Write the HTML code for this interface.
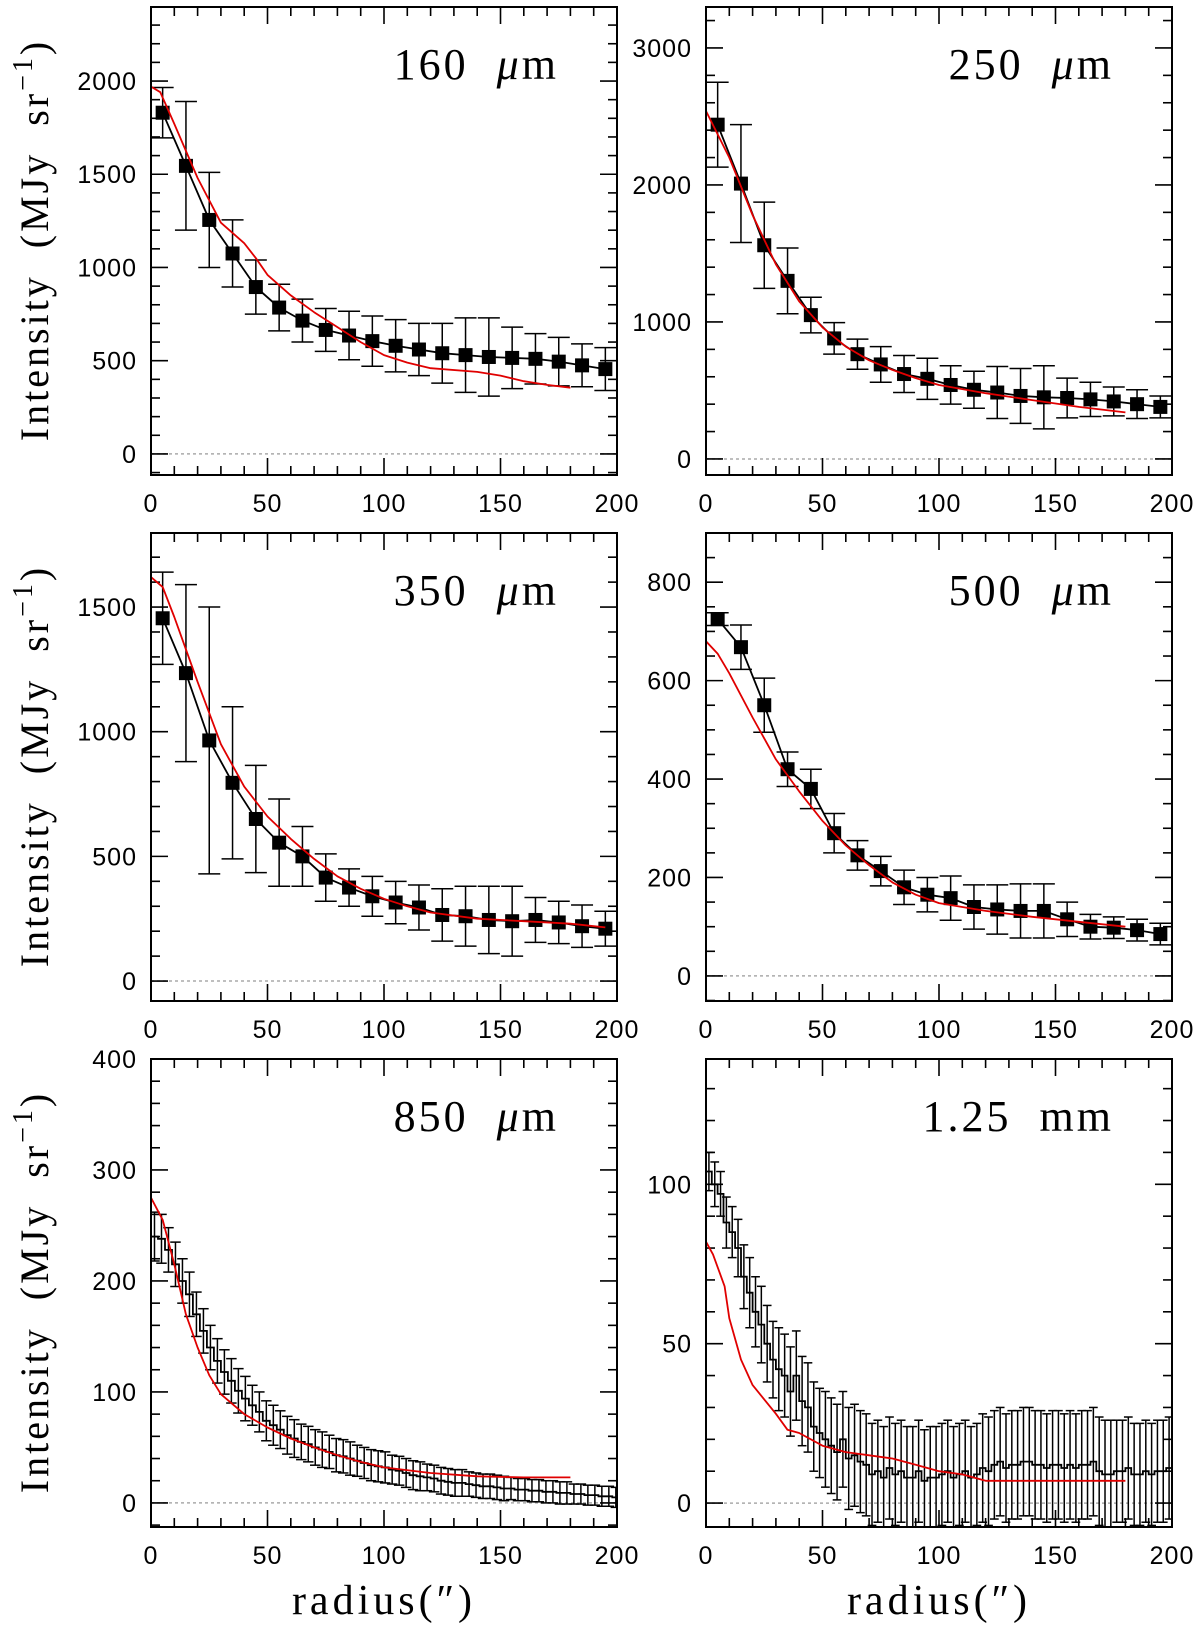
<!DOCTYPE html>
<html><head><meta charset="utf-8"><title>Intensity profiles</title>
<style>html,body{margin:0;padding:0;background:#fff}svg{display:block}</style></head>
<body>
<svg id="fig" width="1200" height="1632" xmlns="http://www.w3.org/2000/svg"></svg>
<script>
// ---- data ----
const r20 = [5,15,25,35,45,55,65,75,85,95,105,115,125,135,145,155,165,175,185,195];
const v160 = [1830,1545,1255,1075,895,785,715,665,635,605,580,560,540,530,520,515,510,495,475,455];
const e160 = [135,345,255,180,145,125,115,115,130,135,140,140,160,200,210,165,135,130,115,115];
const mr160 = [0,4,10,20,30,40,45,50,60,70,80,90,100,110,120,140,150,160,170,180];
const mv160 = [1970,1940,1770,1480,1240,1130,1050,960,850,760,680,600,530,490,460,440,420,390,370,355];

const v250 = [2440,2010,1560,1300,1050,880,765,690,620,585,540,505,485,460,450,445,435,420,400,380];
const e250 = [310,430,315,240,130,115,110,130,135,150,140,135,190,200,230,145,125,105,105,80];
const mr250 = [0,10,20,30,40,50,60,70,80,90,100,120,140,160,180];
const mv250 = [2540,2200,1780,1420,1150,960,820,720,650,590,540,480,430,380,340];

const v350 = [1455,1235,965,795,650,555,500,415,375,340,315,295,265,260,245,240,245,235,220,210];
const e350 = [185,355,535,305,215,175,120,95,75,80,85,90,105,120,135,140,90,85,85,70];
const mr350 = [0,5,10,20,30,40,50,60,70,80,90,100,110,120,140,160,180,195];
const mv350 = [1620,1580,1460,1200,950,780,660,570,490,420,370,330,300,275,250,240,230,215];

const v500 = [725,668,550,420,380,290,245,213,180,165,158,140,135,132,132,115,100,98,93,85];
const e500 = [13,45,55,35,40,40,30,30,35,35,45,45,50,55,55,35,25,22,22,22];
const mr500 = [0,5,10,20,30,40,50,60,70,80,90,100,120,140,160,180];
const mv500 = [680,655,615,525,440,375,315,265,225,190,165,148,132,120,110,100];

const r850 = [1.5,4.5,7.5,10.5,13.5,16.5,19.5,22.5,25.5,28.5,31.5,34.5,37.5,40.5,43.5,46.5,49.5,52.5,55.5,58.5,61.5,64.5,67.5,70.5,73.5,76.5,79.5,82.5,85.5,88.5,91.5,94.5,97.5,100.5,103.5,106.5,109.5,112.5,115.5,118.5,121.5,124.5,127.5,130.5,133.5,136.5,139.5,142.5,145.5,148.5,151.5,154.5,157.5,160.5,163.5,166.5,169.5,172.5,175.5,178.5,181.5,184.5,187.5,190.5,193.5,196.5,199.5];
const v850 = [240,238,228,215,200,188,170,155,140,128,118,110,101,94,88,82,74,70,66,61,58,55,53,50,48,46,43,42,40,38,36,34,33,32,30,29,27,25,24,23,22,20,19,18,18,17,16,15,15,14,13,13,12,12,11,11,10,10,9,9,8,8,7,7,6,6,5];
const e850 = [22,22,20,20,20,20,20,20,20,20,20,20,20,20,18,18,18,18,17,17,17,16,16,16,16,15,15,15,15,14,14,14,14,14,13,13,13,13,13,12,12,12,12,12,12,11,11,11,11,11,11,10,10,10,10,10,10,10,10,10,9,9,9,9,9,9,9];
const mr850 = [0,5,10,15,20,25,30,40,50,60,70,80,90,100,120,140,160,180];
const mv850 = [275,255,215,170,140,115,98,80,68,58,50,43,37,32,27,24,23,23];

const r125 = [1.25,3.75,6.25,8.75,11.25,13.75,16.25,18.75,21.25,23.75,26.25,28.75,31.25,33.75,36.25,38.75,41.25,43.75,46.25,48.75,51.25,53.75,56.25,58.75,61.25,63.75,66.25,68.75,71.25,73.75,76.25,78.75,81.25,83.75,86.25,88.75,91.25,93.75,96.25,98.75,101.25,103.75,106.25,108.75,111.25,113.75,116.25,118.75,121.25,123.75,126.25,128.75,131.25,133.75,136.25,138.75,141.25,143.75,146.25,148.75,151.25,153.75,156.25,158.75,161.25,163.75,166.25,168.75,171.25,173.75,176.25,178.75,181.25,183.75,186.25,188.75,191.25,193.75,196.25,198.75];
const v125 = [104,100,97,88,85,80,71,66,60,56,50,45,42,40,35,40,32,30,24,22,20,18,16,20,14,15,13,12,9,10,8,11,9,10,8,8,10,7,8,8,9,10,8,9,10,8,9,11,10,12,13,11,12,12,13,13,12,12,11,12,12,11,12,11,12,12,13,10,9,9,10,10,11,9,9,10,9,10,10,11];
const e125 = [6,7,7,8,8,9,10,11,11,12,12,12,13,13,14,14,14,14,14,14,15,15,15,15,16,16,16,16,16,16,16,16,16,16,16,16,16,16,16,16,16,16,16,16,16,16,16,17,17,17,17,17,17,17,17,17,17,17,17,17,17,17,17,17,17,17,17,17,17,17,16,16,16,16,16,16,16,16,16,16];
const mr125 = [0,3,8,10,15,20,30,35,40,50,60,70,80,90,100,110,120,140,160,180];
const mv125 = [82,78,68,58,45,37,28,23,22,18,16,15,14,12,10,9,7,7,7,7];

const xTicks = [0,50,100,150,200];

// ---- layout ----
const NS = "http://www.w3.org/2000/svg";
const svg = document.getElementById('fig');
const PW = 466, PH = 468;
const panels = [
 {id:'160', label:'160', mu:true, x:151, y:7, ymin:-113, ymax:2397, major:500, minor:100, yt:[0,500,1000,1500,2000], r:r20, v:v160, e:e160, mr:mr160, mv:mv160, kind:'pts'},
 {id:'250', label:'250', mu:true, x:706, y:7, ymin:-117, ymax:3299, major:1000, minor:200, yt:[0,1000,2000,3000], r:r20, v:v250, e:e250, mr:mr250, mv:mv250, kind:'pts'},
 {id:'350', label:'350', mu:true, x:151, y:533, ymin:-80, ymax:1797, major:500, minor:100, yt:[0,500,1000,1500], r:r20, v:v350, e:e350, mr:mr350, mv:mv350, kind:'pts'},
 {id:'500', label:'500', mu:true, x:706, y:533, ymin:-51, ymax:900, major:200, minor:50, yt:[0,200,400,600,800], r:r20, v:v500, e:e500, mr:mr500, mv:mv500, kind:'pts'},
 {id:'850', label:'850', mu:true, x:151, y:1059, ymin:-21.7, ymax:400, major:100, minor:20, yt:[0,100,200,300,400], r:r850, v:v850, e:e850, mr:mr850, mv:mv850, kind:'step', bw:3},
 {id:'1250', label:'1.25  mm', mu:false, x:706, y:1059, ymin:-7.5, ymax:139.3, major:50, minor:10, yt:[0,50,100], r:r125, v:v125, e:e125, mr:mr125, mv:mv125, kind:'step', bw:2.5}
];

function el(tag, attrs, parent){
  const e = document.createElementNS(NS, tag);
  for (const k in attrs) e.setAttribute(k, attrs[k]);
  (parent||svg).appendChild(e);
  return e;
}

panels.forEach(p => {
  const sx = v => p.x + (v/200)*PW;
  const sy = v => p.y + (p.ymax - v)/(p.ymax - p.ymin)*PH;
  const g = el('g', {});
  
  
  const clipId = 'clip'+p.id;
  const cp = el('clipPath', {id:clipId}, g);
  el('rect', {x:p.x, y:p.y, width:PW, height:PH}, cp);

  const z = el('line', {x1:p.x, x2:p.x+PW, y1:sy(0), y2:sy(0), stroke:'#aaa', 'stroke-width':1.5, 'stroke-dasharray':'3,3'}, g);
  
  

  const tg = el('g', {stroke:'#000','stroke-width':1.6}, g);
  
  
  for (let t=0; t<=200; t+=10){
    const L = (t%50===0)?17:9;
    el('line',{x1:sx(t),x2:sx(t),y1:p.y+PH,y2:p.y+PH-L},tg);
    el('line',{x1:sx(t),x2:sx(t),y1:p.y,y2:p.y+L},tg);
  }
  const start = Math.ceil(p.ymin/p.minor)*p.minor;
  for (let t=start; t<=p.ymax; t+=p.minor){
    const isMaj = Math.abs(t/p.major - Math.round(t/p.major))<1e-6;
    const L = isMaj?17:9;
    el('line',{x1:p.x,x2:p.x+L,y1:sy(t),y2:sy(t)},tg);
    el('line',{x1:p.x+PW,x2:p.x+PW-L,y1:sy(t),y2:sy(t)},tg);
  }
  p.yt.forEach(t => {
    const tx = el('text',{x:p.x-14,y:sy(t)+9,'text-anchor':'end','font-family':'Liberation Sans, sans-serif','font-size':25,'letter-spacing':1},g);
    tx.textContent = t;
    
    
  });
  xTicks.forEach(t => {
    const tx = el('text',{x:sx(t),y:p.y+PH+37,'text-anchor':'middle','font-family':'Liberation Sans, sans-serif','font-size':25,'letter-spacing':1},g);
    tx.textContent = t;
    
    
  });

  const dg = el('g', {'clip-path':'url(#'+clipId+')'}, g);
  const eg = el('g',{stroke:'#000','stroke-width':1.5,fill:'none'},dg);
  
  
  const cap = p.kind==='pts' ? 11 : (p.bw/200*PW*0.75);
  p.r.forEach((r,i) => {
    const x = sx(r), y1 = sy(p.v[i]-p.e[i]), y2 = sy(p.v[i]+p.e[i]);
    el('line',{x1:x,x2:x,y1:y1,y2:y2},eg);
    el('line',{x1:x-cap,x2:x+cap,y1:y1,y2:y1},eg);
    el('line',{x1:x-cap,x2:x+cap,y1:y2,y2:y2},eg);
  });
  let d = '';
  if (p.kind==='pts'){
    p.r.forEach((r,i)=>{ d += (i?'L':'M') + sx(r).toFixed(1)+','+sy(p.v[i]).toFixed(1); });
  } else {
    p.r.forEach((r,i)=>{
      const a = sx(r-p.bw/2), b = sx(r+p.bw/2), y = sy(p.v[i]).toFixed(1);
      d += (i?'L':'M') + a.toFixed(1)+','+y + 'L'+b.toFixed(1)+','+y;
    });
  }
  const dl = el('path',{d:d,fill:'none',stroke:'#000','stroke-width':1.8},dg);
  
  
  if (p.kind==='pts'){
    p.r.forEach((r,i)=>{
      const m = el('rect',{x:sx(r)-7,y:sy(p.v[i])-7,width:14,height:14,fill:'#000'},dg);
      
      
    });
  }
  let md='';
  p.mr.forEach((r,i)=>{ md += (i?'L':'M') + sx(r).toFixed(1)+','+sy(p.mv[i]).toFixed(1); });
  const ml = el('path',{d:md,fill:'none',stroke:'#e00000','stroke-width':1.8,'stroke-linejoin':'round'},dg);
  
  

  const fr = el('rect',{x:p.x,y:p.y,width:PW,height:PH,fill:'none',stroke:'#000','stroke-width':2},g);
  
  

  const lb = el('text',{x:p.x+PW-58,y:p.y+72,'text-anchor':'end','font-family':'Liberation Serif, serif','font-size':44,'letter-spacing':3},g);
  if (p.mu){
    lb.textContent = p.label + '  ';
    const ts = el('tspan',{'font-style':'italic'},lb);
    ts.textContent = 'μ';
    const ts2 = el('tspan',{},lb);
    ts2.textContent = 'm';
  } else {
    lb.textContent = p.label;
  }
  lb.setAttribute('style','white-space:pre');
  
  
});

[240, 766, 1292].forEach(cy => {
  const t = el('text',{x:0,y:0,transform:'translate(48,'+cy+') rotate(-90)','text-anchor':'middle','font-family':'Liberation Serif, serif','font-size':40,'letter-spacing':3});
  t.textContent = 'Intensity  (MJy  sr';
  const s = el('tspan',{dy:-16,'font-size':28},t);
  s.textContent = '−1';
  const s2 = el('tspan',{dy:16},t);
  s2.textContent = ')';
  t.setAttribute('style','white-space:pre');
  
  
});
[384, 939].forEach(cx => {
  const t = el('text',{x:cx,y:1614,'text-anchor':'middle','font-family':'Liberation Serif, serif','font-size':42,'letter-spacing':4});
  t.textContent = 'radius(″)';
  
  
});
</script>
</body></html>
